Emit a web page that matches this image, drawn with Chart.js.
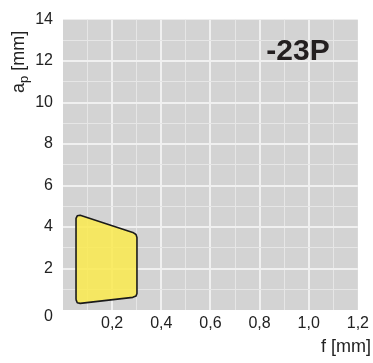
<!DOCTYPE html>
<html>
<head>
<meta charset="utf-8">
<script src="https://cdn.jsdelivr.net/npm/chart.js@4"></script>
<style>
  html, body { margin: 0; padding: 0; background: #fff; }
  #wrap { width: 373px; height: 363px; }
</style>
</head>
<body>
<div id="wrap"><canvas id="chart" width="373" height="363"></canvas></div>
<script>
// Outline of the working area (f in mm, ap in mm), corners cut to follow the rounding
const feedValues  = [0.053, 0.053, 0.058, 0.070, 0.284, 0.297, 0.301, 0.301, 0.297, 0.284, 0.070, 0.058, 0.053];
const depthValues = [0.50, 4.42, 4.54, 4.57, 3.74, 3.64, 3.50, 0.80, 0.67, 0.61, 0.32, 0.35, 0.50];

// Axis ticks
const xTicks = [0, 0.2, 0.4, 0.6, 0.8, 1.0, 1.2];
const yTicks = [0, 2, 4, 6, 8, 10, 12, 14];
const gradeLabel = '-23P';

const outline = feedValues.map((f, i) => ({ x: f, y: depthValues[i] }));

const FONT = '"Liberation Sans", Arial, sans-serif';
Chart.defaults.font.family = FONT;
Chart.defaults.font.size = 16;
Chart.defaults.color = '#222';

function isMajorX(v) { return Math.round(v * 10) % 2 === 0; }
function isMajorY(v) { return Math.round(v) % 2 === 0; }

// Grey plot background + extra texts
const decorPlugin = {
  id: 'decor',
  beforeDraw(chart) {
    const { ctx, chartArea: a } = chart;
    ctx.save();
    ctx.fillStyle = '#d3d3d3';
    ctx.fillRect(a.left, a.top, a.right - a.left, a.bottom - a.top);
    ctx.restore();
  },
  afterDraw(chart) {
    const { ctx, chartArea: a, scales } = chart;
    ctx.save();
    ctx.fillStyle = '#222';

    // origin label, sits a bit below the axis
    ctx.font = '16px ' + FONT;
    ctx.textAlign = 'right';
    ctx.textBaseline = 'middle';
    ctx.fillText('0', a.left - 10, scales.y.getPixelForValue(0) + 7);

    // x axis title
    ctx.font = '18px ' + FONT;
    ctx.textAlign = 'right';
    ctx.fillText('f [mm]', 371, 347);

    // y axis title with subscript
    ctx.translate(24, 93);
    ctx.rotate(-Math.PI / 2);
    ctx.textAlign = 'left';
    ctx.textBaseline = 'alphabetic';
    ctx.fillText('a', 0, 0);
    let w = ctx.measureText('a').width;
    ctx.font = '13px ' + FONT;
    ctx.fillText('p', w, 4);
    w += ctx.measureText('p').width;
    ctx.font = '18px ' + FONT;
    ctx.fillText(' [mm]', w, 0);
    ctx.restore();

    // grade label
    ctx.save();
    ctx.font = 'bold 30px ' + FONT;
    ctx.fillStyle = '#231f20';
    ctx.textAlign = 'center';
    ctx.textBaseline = 'middle';
    ctx.fillText(gradeLabel, 298, 52);
    ctx.restore();
  }
};

new Chart(document.getElementById('chart'), {
  type: 'scatter',
  data: {
    datasets: [{
      data: outline,
      showLine: true,
      fill: 'shape',
      tension: 0,
      backgroundColor: 'rgba(250, 234, 78, 0.85)',
      borderColor: '#1a1a1a',
      borderWidth: 1.6,
      borderJoinStyle: 'round',
      pointRadius: 0,
      pointHoverRadius: 0
    }]
  },
  options: {
    responsive: false,
    animation: false,
    devicePixelRatio: 1,
    layout: { padding: { left: 0, right: 15, top: 15, bottom: 0 } },
    plugins: { legend: { display: false }, tooltip: { enabled: false } },
    scales: {
      x: {
        type: 'linear',
        min: xTicks[0],
        max: xTicks[xTicks.length - 1],
        afterFit(scale) { scale.height = 53; },
        border: { display: false },
        grid: {
          drawTicks: false,
          color(c) {
            const v = Math.round(c.tick.value * 10);
            if (v === 0 || v === 12) return 'rgba(0,0,0,0)';
            return isMajorX(c.tick.value) ? '#f0f0f0' : '#e6e6e6';
          },
          lineWidth(c) { return isMajorX(c.tick.value) ? 2 : 1; }
        },
        ticks: {
          stepSize: 0.1,
          padding: 4,
          maxRotation: 0,
          autoSkip: false,
          callback(v) {
            const r = Math.round(v * 10) / 10;
            if (!xTicks.some(t => Math.abs(t - r) < 1e-9) || r === 0) return '';
            return r.toFixed(1).replace('.', ',');
          }
        }
      },
      y: {
        type: 'linear',
        min: yTicks[0],
        max: yTicks[yTicks.length - 1],
        afterFit(scale) { scale.width = 63; },
        border: { display: false },
        grid: {
          drawTicks: false,
          color(c) {
            const v = Math.round(c.tick.value);
            if (v === 0 || v === 14) return 'rgba(0,0,0,0)';
            return isMajorY(c.tick.value) ? '#f0f0f0' : '#e6e6e6';
          },
          lineWidth(c) { return isMajorY(c.tick.value) ? 2 : 1; }
        },
        ticks: {
          stepSize: 1,
          padding: 10,
          autoSkip: false,
          callback(v) {
            if (v === 0 || !yTicks.includes(v)) return '';
            return String(v);
          }
        }
      }
    }
  },
  plugins: [decorPlugin]
});
</script>
</body>
</html>
